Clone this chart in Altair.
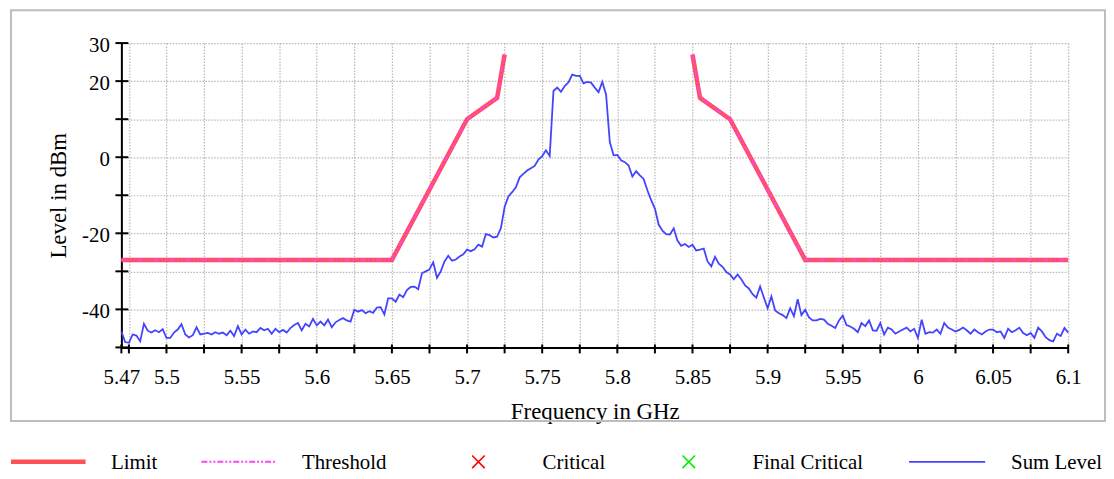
import altair as alt
import pandas as pd
import numpy as np

# ---------------- data ----------------
FREQ_START_MHZ = 5470.0
FREQ_STEP_MHZ = 2.5
sum_level = [
    -45.8, -48.6, -48.8, -46.6, -46.9, -48.4, -43.8, -45.6, -46.1, -45.5,
    -46.0, -45.2, -47.5, -47.5, -46.1, -45.3, -43.9, -46.6, -47.4, -46.8,
    -44.7, -46.6, -46.4, -46.2, -46.6, -46.0, -46.4, -46.1, -46.8, -45.6,
    -47.0, -44.4, -46.6, -45.3, -46.4, -45.8, -46.0, -44.9, -45.5, -45.1,
    -46.4, -45.1, -46.0, -45.4, -46.1, -44.9, -44.1, -43.6, -45.5, -43.8,
    -44.5, -42.5, -44.2, -43.2, -44.2, -42.7, -44.7, -43.4, -42.8, -42.3,
    -42.9, -43.2, -40.1, -40.6, -40.2, -41.0, -40.5, -40.9, -39.5, -39.4,
    -41.3, -37.1, -37.1, -38.0, -36.1, -36.8, -34.9, -34.1, -34.0, -34.7,
    -30.5, -30.0, -29.5, -27.6, -31.7, -30.0, -27.4, -25.9, -27.2, -26.9,
    -26.1, -25.5, -24.3, -24.7, -24.2, -23.0, -23.5, -20.2, -20.5, -21.1,
    -20.9, -18.7, -13.1, -10.3, -9.2, -7.9, -5.3, -4.4, -3.5, -2.9,
    -2.3, -0.6, 0.3, 1.8, 0.3, 17.4, 18.3, 17.2, 18.7, 19.7,
    21.7, 21.4, 21.4, 19.4, 19.8, 19.6, 18.3, 17.1, 19.8, 16.5,
    4.0, 0.5, 0.6, -0.8, -1.3, -2.2, -5.1, -3.7, -4.8, -5.7,
    -8.7, -11.3, -13.5, -17.7, -19.3, -20.2, -20.3, -18.7, -21.9, -23.3,
    -22.8, -23.6, -23.0, -24.5, -24.3, -24.0, -27.4, -28.7, -26.2, -28.0,
    -28.8, -30.2, -30.8, -32.1, -30.8, -32.1, -33.7, -34.5, -36.0, -36.9,
    -34.0, -36.9, -39.7, -36.6, -40.3, -41.0, -41.5, -42.3, -39.7, -41.8,
    -37.3, -41.5, -40.1, -42.1, -42.9, -42.9, -42.5, -42.7, -43.8, -44.3,
    -44.9, -42.9, -41.6, -44.1, -44.5, -45.1, -46.0, -43.6, -44.4, -42.9,
    -45.5, -45.6, -43.6, -46.6, -44.8, -45.3, -46.4, -45.8, -45.3, -44.8,
    -45.8, -45.1, -47.5, -42.7, -46.4, -46.0, -46.1, -45.3, -46.4, -43.6,
    -44.8, -45.3, -45.8, -45.4, -44.8, -45.5, -46.4, -45.3, -46.0, -46.6,
    -45.8, -45.3, -45.3, -46.0, -45.8, -47.5, -45.1, -46.0, -45.5, -44.8,
    -46.2, -46.8, -46.2, -47.5, -44.8, -45.8, -47.3, -48.1, -48.4, -46.4,
    -47.0, -44.9, -46.1,
]
sum_freq = [(FREQ_START_MHZ + FREQ_STEP_MHZ * i) / 1000.0 for i in range(len(sum_level))]

limit_left_freq = [5.47, 5.65, 5.70, 5.72, 5.725]
limit_left_level = [-27, -27, 10, 15.6, 27]
limit_right_freq = [5.85, 5.855, 5.875, 5.925, 6.1]
limit_right_level = [27, 15.6, 10, -27, -27]

x_tick_values = [5.47] + [round(5.475 + 0.025 * k, 3) for k in range(26)]
x_label_values = [5.47, 5.5, 5.55, 5.6, 5.65, 5.7, 5.75, 5.8, 5.85, 5.9, 5.95, 6.0, 6.05, 6.1]
y_tick_values = [30, 20, 10, 0, -10, -20, -30, -40, -50]
y_label_values = [30, 20, 0, -20, -40]

legend_names = ["Limit", "Threshold", "Critical", "Final Critical", "Sum Level"]

# ---------------- styles ----------------
W, H = 952, 306
FONT = "Liberation Serif"
FS = 21
FS_TITLE = 23
C_LIMIT = "#ff5058"
C_THRESH = "#ff40ff"
C_CRIT = "#ff0000"
C_FINAL = "#00ee00"
C_SUM = "#4444ff"
X_SHAPE = "M-1,-1L1,1M-1,1L1,-1"

df_sum = pd.DataFrame({"f": sum_freq, "lvl": sum_level})
df_limit = pd.DataFrame({
    "f": limit_left_freq + limit_right_freq,
    "lvl": limit_left_level + limit_right_level,
    "seg": ["a"] * len(limit_left_freq) + ["b"] * len(limit_right_freq),
})
one = pd.DataFrame({"k": [0]})

x_label_js = "[" + ",".join(repr(v) for v in x_label_values) + "]"
y_label_js = "[" + ",".join(str(v) for v in y_label_values) + "]"

xscale = alt.Scale(domain=[5.47, 6.1], nice=False, zero=False)
yscale = alt.Scale(domain=[-50, 30], nice=False, zero=False)

xaxis = alt.Axis(
    title="Frequency in GHz", values=x_tick_values, tickCount=500, ticks=False, tickSize=0,
    labelExpr=f"indexof({x_label_js}, datum.value) >= 0 ? toString(datum.value) : ''",
    labelOverlap=False, labelFlush=False, labelPadding=19,
    titlePadding=13,
)
yaxis = alt.Axis(
    title="Level in dBm", values=y_tick_values, tickCount=500, ticks=False, tickSize=0,
    labelExpr=f"indexof({y_label_js}, datum.value) >= 0 ? toString(datum.value) : ''",
    labelOverlap=False, labelFlush=False, labelPadding=12, labelOffset=2, titlePadding=11,
)

X = alt.X("f:Q", scale=xscale, axis=xaxis)
Y = alt.Y("lvl:Q", scale=yscale, axis=yaxis)

frame = alt.Chart(one).mark_rect(fillOpacity=0, stroke="#bdbdbd", strokeWidth=2).encode(
    x=alt.value(-111), x2=alt.value(W + 37), y=alt.value(-33), y2=alt.value(H + 74)
)

limit = alt.Chart(df_limit).mark_line(color=C_LIMIT, strokeWidth=4.5).encode(
    x=X, y=Y, detail="seg:N"
)
thresh = alt.Chart(df_limit).mark_line(color=C_THRESH, strokeWidth=1.8, strokeDash=[6, 2, 2, 2, 2, 2]).encode(
    x=alt.X("f:Q", scale=xscale), y=alt.Y("lvl:Q", scale=yscale), detail="seg:N"
)
sumline = alt.Chart(df_sum).mark_line(color=C_SUM, strokeWidth=1.8).encode(
    x=alt.X("f:Q", scale=xscale), y=alt.Y("lvl:Q", scale=yscale)
)

xt = alt.Chart(pd.DataFrame({"f": x_tick_values})).mark_rule(color="black", strokeWidth=2).encode(
    x=alt.X("f:Q", scale=xscale), y=alt.value(H - 3), y2=alt.value(H + 6)
)
yt = alt.Chart(pd.DataFrame({"lvl": y_tick_values})).mark_rule(color="black", strokeWidth=2).encode(
    y=alt.Y("lvl:Q", scale=yscale), x=alt.value(-6), x2=alt.value(7)
)

LY = H + 115
layers = [frame, limit, thresh, sumline, xt, yt]

# legend (styling only)
def seg(x0, x1, color, width, dash=None):
    kw = dict(color=color, strokeWidth=width)
    if dash:
        kw["strokeDash"] = dash
    return alt.Chart(one).mark_rule(**kw).encode(
        x=alt.value(x0), x2=alt.value(x1), y=alt.value(LY), y2=alt.value(LY)
    )

def lab(x0, text):
    return alt.Chart(one).mark_text(align="left", baseline="middle", font=FONT, fontSize=FS, color="black").encode(
        x=alt.value(x0), y=alt.value(LY + 1), text=alt.value(text)
    )

def cross(xc, color):
    return alt.Chart(one).mark_point(shape=X_SHAPE, size=160, filled=False, color=color, strokeWidth=1.6, opacity=1).encode(
        x=alt.value(xc), y=alt.value(LY)
    )

layers += [
    seg(-111, -36, C_LIMIT, 4.5), lab(-10.5, legend_names[0]),
    seg(80.5, 156.5, C_THRESH, 2, [6, 2, 2, 2, 2, 2]), lab(181.5, legend_names[1]),
    cross(359, C_CRIT), lab(423.5, legend_names[2]),
    cross(570.5, C_FINAL), lab(634.5, legend_names[3]),
    seg(792, 868.5, C_SUM, 1.8), lab(894.5, legend_names[4]),
]

chart = alt.layer(*layers).properties(width=W, height=H, padding=0).configure_view(strokeWidth=0).configure_axis(
    domainColor="black", domainWidth=2, labelFont=FONT, labelFontSize=FS, labelColor="black",
    titleFont=FONT, titleFontSize=FS_TITLE, titleFontWeight="normal", titleColor="black",
    gridColor="#b8b8b8", gridWidth=1.2, gridDash=[1.5, 1.5],
)

chart.save("out.html", embed_options={"renderer": "svg", "actions": False})
